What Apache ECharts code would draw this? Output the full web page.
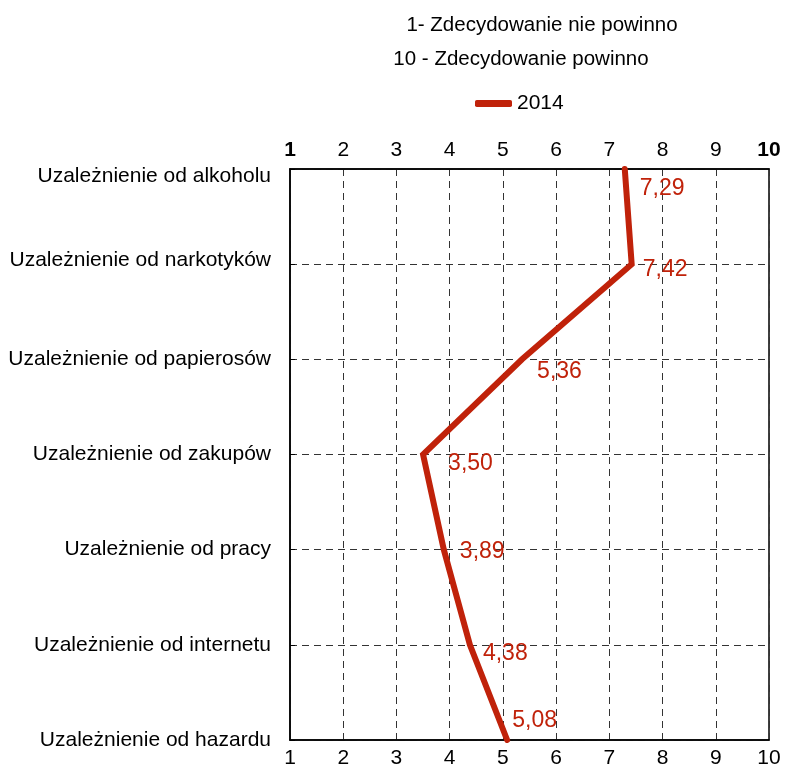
<!DOCTYPE html>
<html>
<head>
<meta charset="utf-8">
<script src="https://cdn.jsdelivr.net/npm/echarts@6/dist/echarts.min.js"></script>
<style>
  html, body { margin: 0; padding: 0; background: #fff; }
  #chart { width: 785px; height: 769px; }
</style>
</head>
<body>
<div id="chart"></div>
<script>
const categories = [
  'Uzależnienie od alkoholu',
  'Uzależnienie od narkotyków',
  'Uzależnienie od papierosów',
  'Uzależnienie od zakupów',
  'Uzależnienie od pracy',
  'Uzależnienie od internetu',
  'Uzależnienie od hazardu'
];
const values2014 = [7.29, 7.42, 5.36, 3.50, 3.89, 4.38, 5.08];
const seriesName = '2014';
const scaleNotes = ['1- Zdecydowanie nie powinno', '10 - Zdecydowanie powinno'];

// label nudges (px) to mimic the original placement
const labelOffsets = [[15, 20], [11, 5], [15, 12], [25, 9], [16, 2], [13, 9], [5, -19]];

const red = '#c0220a';
const font = 'Liberation Sans, Arial, sans-serif';

const myChart = echarts.init(document.getElementById('chart'));

const option = {
  animation: false,
  backgroundColor: '#fff',
  title: [
    { text: scaleNotes[0], left: 537, top: 10, textAlign: 'center',
      textStyle: { fontFamily: font, fontSize: 20.5, fontWeight: 'normal', color: '#000' } },
    { text: scaleNotes[1], left: 516, top: 44, textAlign: 'center',
      textStyle: { fontFamily: font, fontSize: 20.5, fontWeight: 'normal', color: '#000' } }
  ],
  legend: {
    data: [{ name: seriesName, icon: 'roundRect' }],
    left: 470,
    top: 88,
    itemWidth: 37,
    itemHeight: 7,
    itemGap: 6,
    textStyle: { fontFamily: font, fontSize: 21, color: '#000' }
  },
  grid: {
    left: 290,
    right: 16,
    top: 169,
    bottom: 28,
    show: true,
    borderColor: '#000',
    borderWidth: 1.5,
    containLabel: false
  },
  xAxis: [
    {
      type: 'value',
      position: 'bottom',
      min: 1, max: 10, interval: 1,
      axisLine: { show: true, lineStyle: { color: '#000', width: 1.5 } },
      axisTick: { show: false },
      axisLabel: { fontFamily: font, fontSize: 21, color: '#000', margin: 8 },
      splitLine: { show: true, lineStyle: { color: '#333', width: 1, type: [7, 5] } }
    },
    {
      type: 'value',
      position: 'top',
      min: 1, max: 10, interval: 1,
      axisLine: { show: true, lineStyle: { color: '#000', width: 1.5 } },
      axisTick: { show: false },
      axisLabel: {
        fontFamily: font, fontSize: 21, color: '#000', margin: 8,
        formatter: function (v) {
          return (v === 1 || v === 10) ? '{b|' + v + '}' : String(v);
        },
        rich: { b: { fontFamily: font, fontSize: 21, fontWeight: 'bold', color: '#000' } }
      },
      splitLine: { show: false }
    }
  ],
  yAxis: {
    type: 'category',
    data: categories,
    inverse: true,
    boundaryGap: false,
    axisLine: { show: true, lineStyle: { color: '#000', width: 1.5 } },
    axisTick: { show: true, inside: true, length: 5, lineStyle: { color: '#000' } },
    axisLabel: {
      fontFamily: font, fontSize: 21, color: '#000', margin: 19,
      formatter: function (v, i) {
        if (i === 0) return '{dn|' + v + '}';
        if (i === 1) return '{up|' + v + '}';
        return v;
      },
      rich: {
        dn: { fontFamily: font, fontSize: 21, color: '#000', padding: [14, 0, 0, 0] },
        up: { fontFamily: font, fontSize: 21, color: '#000', padding: [0, 0, 8, 0] }
      }
    },
    splitLine: { show: true, lineStyle: { color: '#333', width: 1, type: [7, 5] } }
  },
  series: [
    {
      name: seriesName,
      type: 'line',
      xAxisIndex: 0,
      symbol: 'circle',
      symbolSize: 0.1,
      showSymbol: true,
      lineStyle: { color: red, width: 6, cap: 'round', join: 'miter' },
      itemStyle: { color: red },
      data: values2014.map(function (v, i) {
        return {
          value: [v, categories[i]],
          label: { offset: labelOffsets[i] }
        };
      }),
      label: {
        show: true,
        position: 'right',
        distance: 0,
        fontFamily: font,
        fontSize: 23,
        color: red,
        formatter: function (p) {
          return p.value[0].toFixed(2).replace('.', ',');
        }
      }
    }
  ]
};

myChart.setOption(option);
</script>
</body>
</html>
